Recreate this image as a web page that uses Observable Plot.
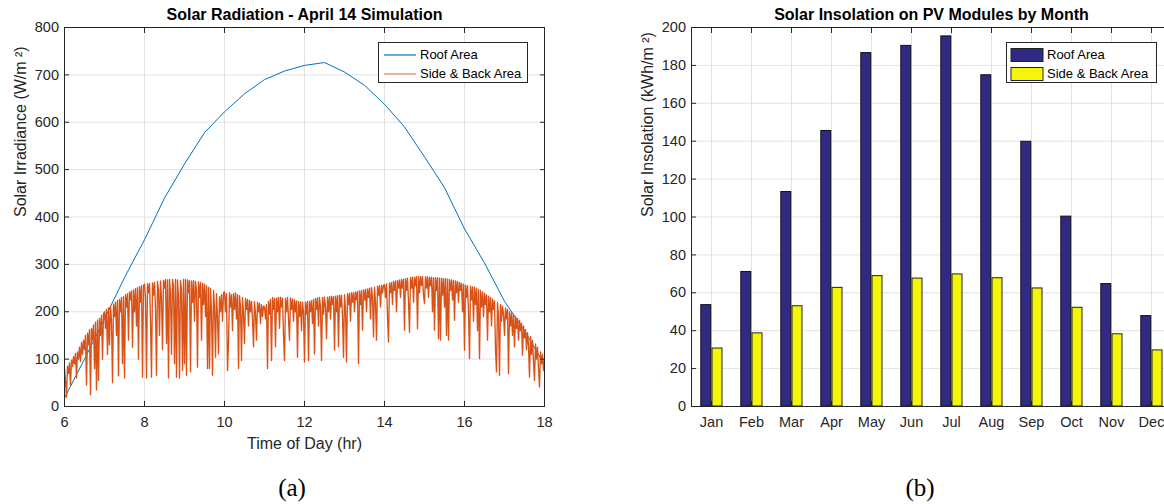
<!DOCTYPE html>
<html><head><meta charset="utf-8">
<script src="https://cdn.jsdelivr.net/npm/d3@7"></script>
<script src="https://cdn.jsdelivr.net/npm/@observablehq/plot@0.6"></script>
<style>
html,body{margin:0;padding:0;background:#fff;overflow:hidden;width:1164px;height:504px;}
#wrap{position:relative;width:1164px;height:504px;font-family:"Liberation Sans",Arial,sans-serif;color:#262626;overflow:hidden;}
.panel{position:absolute;top:0;height:460px;}
.panel svg{max-width:none !important;}
.legend{position:absolute;background:#fff;border:1px solid #262626;box-sizing:border-box;font-size:13px;color:#000;}
.legend .row{position:absolute;left:0;height:16px;line-height:16px;white-space:nowrap;}
.caption{position:absolute;font-family:"Liberation Serif","DejaVu Serif",serif;font-size:25px;color:#000;transform:translate(-50%,-50%);}
</style></head><body><div id="wrap"></div><script>
// ---------- Panel (a): Solar Radiation - April 14 Simulation ----------
const roofHours = [6, 6.5, 7, 7.5, 8, 8.5, 9, 9.5, 10, 10.5, 11, 11.5, 12, 12.5, 13, 13.5, 14, 14.5, 15, 15.5, 16, 16.5, 17, 17.5, 18];
const roofIrr   = [18, 100, 185, 272, 352, 440, 512, 578, 622, 660, 690, 708, 720, 726, 706, 678, 638, 590, 527, 462, 375, 303, 222, 160, 88];
// side & back area: sampled every 1.5 minutes (0.025 h) from 6:00 to 18:00
const sideStart = 6;
const sideStep = 0.025;
const sideIrr = [
  // 6h
  80,55,20,85,70,92,45,98,85,105,90,112,60,115,100,125,95,135,110,140,
  120,150,45,155,130,162,25,165,140,172,80,178,35,182,55,186,150,192,100,196,
  // 7h
  200,165,205,110,208,130,212,180,50,216,190,220,150,224,65,226,200,230,90,232,
  60,236,210,238,140,242,225,244,125,246,200,249,170,251,100,253,220,255,62,256,
  // 8h
  258,230,60,259,240,260,180,62,261,235,262,205,66,264,245,150,265,230,120,266,
  250,268,133,267,60,268,240,110,268,255,90,268,62,267,230,60,266,245,76,268,
  // 9h
  90,268,66,267,240,266,73,265,220,266,180,264,245,83,263,230,262,140,260,215,
  258,190,255,80,252,80,250,200,66,245,210,104,238,190,111,232,200,236,180,240,
  // 10h
  242,200,238,76,133,240,210,236,160,238,205,240,185,236,80,234,210,97,230,195,
  133,228,205,226,170,224,200,222,185,126,222,195,140,220,200,218,175,215,190,212,
  // 11h
  210,185,215,80,222,195,226,97,230,205,228,126,229,200,230,165,231,210,229,150,
  97,228,200,230,185,140,229,205,227,180,225,200,223,104,222,190,221,160,220,200,
  // 12h
  94,220,195,222,97,222,200,224,175,226,111,228,205,229,170,230,210,97,230,195,
  231,210,143,231,200,232,185,233,215,232,119,233,200,234,126,235,210,235,190,104,
  // 13h
  236,205,94,238,215,239,180,240,220,241,200,242,225,243,90,244,215,245,161,246,
  225,247,200,248,230,250,185,251,230,147,252,220,140,254,235,255,210,256,240,256,
  // 14h
  257,230,259,190,136,261,240,262,215,264,245,265,200,266,250,267,230,268,250,269,
  161,270,245,271,220,157,272,250,273,220,273,255,274,164,274,240,274,255,274,235,
  // 15h
  217,274,250,274,230,273,255,273,200,272,161,272,245,272,143,271,140,271,235,270,
  210,270,150,269,140,268,245,267,225,266,182,265,240,264,220,262,245,260,200,258,
  // 16h
  119,256,230,255,200,101,254,225,253,180,252,215,250,160,247,101,245,210,242,190,
  239,215,236,140,233,200,230,170,227,205,223,120,73,219,190,66,215,180,212,195,
  // 17h
  150,208,185,205,69,200,170,198,150,195,126,190,165,186,140,182,160,176,108,170,
  145,162,120,156,130,62,148,110,140,95,55,132,100,125,80,41,115,90,110,76,
  // 18h
  100
];
const irrTicksX = [6, 8, 10, 12, 14, 16, 18];
const irrTicksY = [0, 100, 200, 300, 400, 500, 600, 700, 800];
const seriesNames = ["Roof Area", "Side & Back Area"];

// ---------- Panel (b): Solar Insolation on PV Modules by Month ----------
const months = ["Jan","Feb","Mar","Apr","May","Jun","Jul","Aug","Sep","Oct","Nov","Dec"];
const roofInsol = [53.5, 71, 113.2, 145.4, 186.5, 190.3, 195.3, 174.8, 139.7, 100.2, 64.6, 47.7];
const sideInsol = [30.6, 38.6, 52.9, 62.6, 68.8, 67.5, 69.7, 67.7, 62.3, 52.1, 38.1, 29.6];
const insolTicksY = [0, 20, 40, 60, 80, 100, 120, 140, 160, 180, 200];

const C = {axis: "#262626", grid: "#e2e2e2", blue: "#0072BD", orange: "#D95319", navy: "#312A84", yellow: "#F5F50A"};
const font = {fontFamily: "'Liberation Sans', Arial, sans-serif", fontSize: "14.5px", color: C.axis, background: "transparent", overflow: "visible", maxWidth: "none"};

const roofRows = roofHours.map((h, i) => ({h, v: roofIrr[i]}));
const sideRows = sideIrr.map((v, i) => ({h: sideStart + i * sideStep, v}));

const axisOpts = {tickSize: -5, label: null};
const left = Plot.plot({
  width: 582, height: 460,
  marginLeft: 64, marginRight: 38, marginTop: 27, marginBottom: 54,
  style: font,
  x: {domain: [6, 18]},
  y: {domain: [0, 800]},
  marks: [
    Plot.ruleX(irrTicksX, {stroke: C.grid}),
    Plot.ruleY(irrTicksY, {stroke: C.grid}),
    Plot.line(roofRows, {x: "h", y: "v", stroke: C.blue, strokeWidth: 1}),
    Plot.line(sideRows, {x: "h", y: "v", stroke: C.orange, strokeWidth: 1.35}),
    Plot.frame({stroke: C.axis}),
    Plot.axisX({anchor: "bottom", ticks: irrTicksX, tickPadding: 15.5, ...axisOpts}),
    Plot.axisX({anchor: "top", ticks: irrTicksX, tickFormat: () => "", ...axisOpts}),
    Plot.axisY({anchor: "left", ticks: irrTicksY, tickPadding: 10.5, ...axisOpts}),
    Plot.axisY({anchor: "right", ticks: irrTicksY, tickFormat: () => "", ...axisOpts}),
    Plot.text(["Solar Radiation - April 14 Simulation"], {frameAnchor: "top", lineAnchor: "middle", dy: -13, fontWeight: "bold", fontSize: 16, fill: "#000"}),
    Plot.text(["Time of Day (hr)"], {frameAnchor: "bottom", lineAnchor: "middle", dy: 37, fontSize: 16}),
    Plot.text(["Solar Irradiance (W/m ²)"], {frameAnchor: "left", rotate: -90, dx: -44, fontSize: 16})
  ]
});

const barRows = months.map((m, i) => ({i: i + 1, m, roof: roofInsol[i], side: sideInsol[i]}));
const monthIdx = barRows.map(d => d.i);

const right = Plot.plot({
  width: 600, height: 460,
  marginLeft: 109, marginRight: 11, marginTop: 27, marginBottom: 54,
  style: font,
  x: {domain: [0.5, 12.5]},
  y: {domain: [0, 200]},
  marks: [
    Plot.ruleX(monthIdx, {stroke: C.grid}),
    Plot.ruleY(insolTicksY, {stroke: C.grid}),
    Plot.rect(barRows, {x1: d => d.i - 0.255, x2: d => d.i - 0.005, y1: 0, y2: "roof", fill: C.navy, stroke: "#111", strokeWidth: 1}),
    Plot.rect(barRows, {x1: d => d.i + 0.025, x2: d => d.i + 0.275, y1: 0, y2: "side", fill: C.yellow, stroke: "#222", strokeWidth: 1}),
    Plot.frame({stroke: C.axis}),
    Plot.axisX({anchor: "bottom", ticks: monthIdx, tickFormat: i => months[i - 1], tickPadding: 15.5, ...axisOpts}),
    Plot.axisX({anchor: "top", ticks: monthIdx, tickFormat: () => "", ...axisOpts}),
    Plot.axisY({anchor: "left", ticks: insolTicksY, tickPadding: 10.5, ...axisOpts}),
    Plot.text(["Solar Insolation on PV Modules by Month"], {frameAnchor: "top", lineAnchor: "middle", dy: -13, fontWeight: "bold", fontSize: 16, fill: "#000"}),
    Plot.text(["Solar Insolation (kWh/m ²)"], {frameAnchor: "left", rotate: -90, dx: -44, fontSize: 16})
  ]
});
left.style.maxWidth = "none";
right.style.maxWidth = "none";

const wrap = document.getElementById("wrap");
const p1 = document.createElement("div"); p1.className = "panel"; p1.style.left = "0px"; p1.style.width = "582px"; p1.appendChild(left);
const p2 = document.createElement("div"); p2.className = "panel"; p2.style.left = "582px"; p2.style.width = "600px"; p2.appendChild(right);
wrap.appendChild(p1); wrap.appendChild(p2);

// legends
function legend(x, y, w, h, colors, kind) {
  const box = document.createElement("div");
  box.className = "legend";
  Object.assign(box.style, {left: x + "px", top: y + "px", width: w + "px", height: h + "px"});
  seriesNames.forEach((name, k) => {
    const row = document.createElement("div");
    row.className = "row";
    row.style.top = (4 + k * 18.5) + "px";
    const sym = kind === "line"
      ? `<line x1="5" x2="37" y1="8" y2="8" stroke="${colors[k]}" stroke-width="1.2"/>`
      : `<rect x="4" y="1.5" width="32" height="13" fill="${colors[k]}" stroke="#222" stroke-width="1"/>`;
    row.innerHTML = `<svg width="40" height="16" style="position:absolute;left:0;top:0">${sym}</svg><span style="position:absolute;left:${kind === "line" ? 41 : 40}px">${name.replace("&", "&amp;")}</span>`;
    box.appendChild(row);
  });
  wrap.appendChild(box);
}
legend(378, 42, 150, 41, [C.blue, "#E8805A"], "line");
legend(1006, 42, 151, 41, [C.navy, C.yellow], "bar");

// captions
[["(a)", 292, 488], ["(b)", 920, 488]].forEach(([t, x, y]) => {
  const c = document.createElement("div");
  c.className = "caption"; c.textContent = t;
  c.style.left = x + "px"; c.style.top = y + "px";
  wrap.appendChild(c);
});
</script></body></html>
